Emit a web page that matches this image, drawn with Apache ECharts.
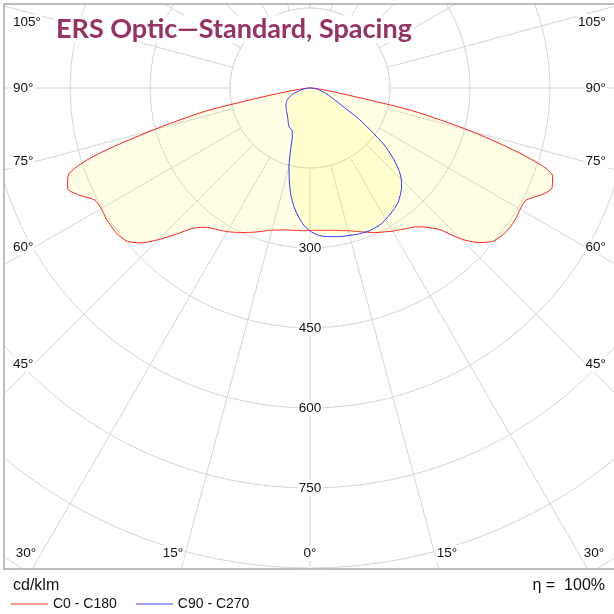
<!DOCTYPE html>
<html><head><meta charset="utf-8">
<script src="https://cdn.jsdelivr.net/npm/echarts@6/dist/echarts.min.js"></script>
<style>html,body{margin:0;padding:0;background:#fff}#c{width:614px;height:614px}</style>
</head><body><div id="c"></div>
<script>
// ---------- data ----------
const titleText = 'ERS Optic\u2014Standard, Spacing';
const seriesNames = ['C0 - C180', 'C90 - C270'];
// signed gamma angle (deg from nadir, negative = left half)
const gammaAngles = [-90,-87.5,-85,-82.5,-80,-77.5,-75,-72.5,-70,-67.5,-65,-62.5,-60,-57.5,-55,-52.5,-50,-47.5,-45,-42.5,-40,-37.5,-35,-32.5,-30,-27.5,-25,-22.5,-20,-17.5,-15,-12.5,-10,-7.5,-5,-2.5,0,2.5,5,7.5,10,12.5,15,17.5,20,22.5,25,27.5,30,32.5,35,37.5,40,42.5,45,47.5,50,52.5,55,57.5,60,62.5,65,67.5,70,72.5,75,77.5,80,82.5,85,87.5,90];
// cd/klm
const c0c180 = [0,3,10,25,70,200,305,425,483,492,476,455,452,454,454,453,447,430,402,372,344,329,321,316,311,305,299,293,287,281,276,273,270,269,268,268,267,267,268,269,271,274,277,282,287,293,299,304,310,315,321,328,341,360,400,429,447,454,457,457,455,456,476,491,484,422,312,195,60,25,10,3,0];
const c90c270 = [0,3,6,10,13,16,22,28,35,40,44,48,51,53,55,57,58,60,62,64,66,69,72,76,80,83,85,87,97,121,152,179,205,226,243,258,268,275,279,281,283,285,286,288,289,290,289,288,284,280,276,271,263,254,242,225,202,175,139,110,78,60,48,40,34,28,23,19,16,12,8,4,0];
const ringLabels = [300, 450, 600, 750];
const sideAngleLabels = ['105°', '90°', '75°', '60°', '45°'];
const bottomAngleLabels = ['30°', '15°', '0°', '15°', '30°'];
const unitText = 'cd/klm';
const efficiencyText = 'η =  100%';

// ---------- layout ----------
const FONT = "'Liberation Sans', Arial, sans-serif";
const CX = 310, CY = 88, PX_PER_150 = 80, RMAX = 1200;
const sideY = [22, 88, 161, 247, 364];
const bottomX = [26, 173, 310, 447, 594];
const toAxisAngle = a => (a + 360) % 360;
const pairs = vals => gammaAngles.map((a, i) => [vals[i], toAxisAngle(a)]);

const chart = echarts.init(document.getElementById('c'), null, {renderer: 'canvas'});

const labelStyle = {fill: '#111', font: '13.5px ' + FONT, backgroundColor: '#fff', padding: [1, 1]};
const graphics = [];
graphics.push({type: 'circle', shape: {cx: CX, cy: CY, r: PX_PER_150}, style: {fill: '#fff', stroke: '#d6d6d6', lineWidth: 1}, z: 2, silent: true});
graphics.push({type: 'rect', shape: {x: 0, y: 0, width: 614, height: 3.5}, style: {fill: '#fff'}, z: 10, silent: true});
graphics.push({type: 'rect', shape: {x: 0, y: 0, width: 3.5, height: 614}, style: {fill: '#fff'}, z: 10, silent: true});
graphics.push({type: 'rect', shape: {x: 0, y: 569.5, width: 614, height: 45}, style: {fill: '#fff'}, z: 10, silent: true});
graphics.push({type: 'rect', shape: {x: 4, y: 4, width: 620, height: 565}, style: {fill: 'none', stroke: '#a8a8a8', lineWidth: 1.5}, z: 11, silent: true});
sideAngleLabels.forEach((t, i) => {
  graphics.push({type: 'text', x: 12, y: sideY[i], z: 12, style: Object.assign({text: t, align: 'left', verticalAlign: 'middle'}, labelStyle)});
  graphics.push({type: 'text', x: 607, y: sideY[i], z: 12, style: Object.assign({text: t, align: 'right', verticalAlign: 'middle'}, labelStyle)});
});
bottomAngleLabels.forEach((t, i) => {
  graphics.push({type: 'text', x: bottomX[i], y: 553, z: 12, style: Object.assign({text: t, align: 'center', verticalAlign: 'middle'}, labelStyle)});
});
graphics.push({type: 'text', x: 54, y: 29, z: 12, style: {text: titleText, align: 'left', verticalAlign: 'middle', fill: '#963264', font: 'bold 27px Lato, ' + FONT, backgroundColor: '#fff', padding: [0, 2]}});
graphics.push({type: 'text', x: 13, y: 586, z: 12, style: {text: unitText, align: 'left', verticalAlign: 'middle', fill: '#111', font: '16px ' + FONT}});
graphics.push({type: 'text', x: 605, y: 586, z: 12, style: {text: efficiencyText, align: 'right', verticalAlign: 'middle', fill: '#111', font: '16px ' + FONT}});

const option = {
  animation: false,
  textStyle: {fontFamily: FONT},
  polar: {center: [CX, CY], radius: PX_PER_150 * RMAX / 150},
  angleAxis: {
    type: 'value', min: 0, max: 360, interval: 15, startAngle: 270, clockwise: false, z: 0,
    axisLine: {show: false}, axisTick: {show: false}, axisLabel: {show: false},
    splitLine: {show: true, lineStyle: {color: '#d6d6d6', width: 1}}
  },
  radiusAxis: {
    type: 'value', min: 0, max: RMAX, interval: 150, z: 1,
    axisLine: {show: false}, axisTick: {show: false},
    splitLine: {show: true, lineStyle: {color: '#d6d6d6', width: 1}},
    axisLabel: {
      margin: 0, align: 'center', verticalAlign: 'middle', fontSize: 13.5, color: '#111',
      backgroundColor: '#fff', padding: [1, 1],
      formatter: v => ringLabels.indexOf(v) >= 0 ? String(v) : ''
    }
  },
  legend: {
    left: 11, top: 597, padding: 0, itemWidth: 37, itemHeight: 1, itemGap: 19, selectedMode: false, icon: 'rect',
    data: seriesNames, textStyle: {fontSize: 14, lineHeight: 12, color: '#111', fontFamily: FONT}, z: 12
  },
  series: [
    {name: seriesNames[0], type: 'line', coordinateSystem: 'polar', data: pairs(c0c180), symbol: 'none', smooth: 0.25, z: 3,
     lineStyle: {color: '#ff2020', width: 1}, itemStyle: {color: '#ff3030'},
     areaStyle: {color: 'rgba(255,250,0,0.14)'}},
    {name: seriesNames[1], type: 'line', coordinateSystem: 'polar', data: pairs(c90c270), symbol: 'none', smooth: 0.25, z: 4,
     lineStyle: {color: '#3030ff', width: 1}, itemStyle: {color: '#4040ff'},
     areaStyle: {color: 'rgba(255,250,0,0.14)'}}
  ],
  graphic: graphics
};
chart.setOption(option);
</script></body></html>
